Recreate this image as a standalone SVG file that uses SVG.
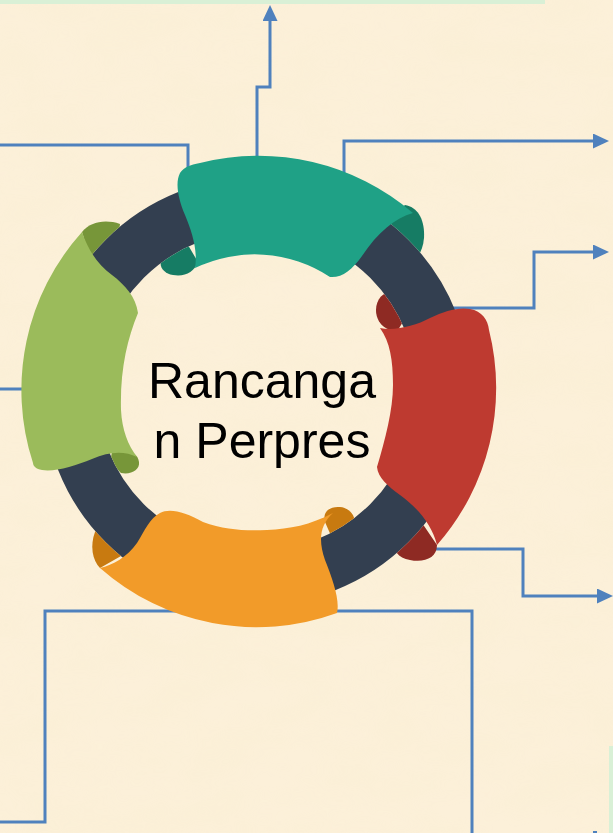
<svg xmlns="http://www.w3.org/2000/svg" width="613" height="833" viewBox="0 0 613 833">
<style>
.conn{fill:none;stroke:#4f81bd;stroke-width:3;stroke-linejoin:miter}
.ring{fill:none;stroke:#333f50;stroke-width:54}
.lbl{font-family:"Liberation Sans",Arial,sans-serif;font-size:50px;fill:#000}
.teal{fill:#1fa186}.tealD{fill:#167c64}
.red{fill:#be3a30}.redD{fill:#8e2a23}
.org{fill:#f29b29}.orgD{fill:#c87a10}
.grn{fill:#9bbb5b}.grnD{fill:#779639}
</style>
<defs>
<marker id="arr" markerUnits="userSpaceOnUse" markerWidth="16" markerHeight="15" refX="0" refY="7.5" orient="auto">
<path d="M0,0 L16,7.5 L0,15 Z" fill="#4f81bd"/>
</marker>
<filter id="parch" x="0" y="0" width="100%" height="100%">
<feTurbulence type="fractalNoise" baseFrequency="0.012 0.025" numOctaves="3" seed="7"/>
<feColorMatrix type="matrix" values="0 0 0 0 0.93 0 0 0 0 0.85 0 0 0 0 0.62 0 0 0 0.7 -0.2"/>
</filter>
<mask id="offRing" maskUnits="userSpaceOnUse" x="0" y="0" width="613" height="833">
<rect width="613" height="833" fill="#fff"/>
<circle cx="257" cy="391" r="187" fill="none" stroke="#000" stroke-width="54"/>
</mask>
</defs>
<g id="background">
<rect width="613" height="833" fill="#fcf0d9"/>
<rect width="613" height="833" filter="url(#parch)" opacity="0.6"/>
<rect x="0" y="0" width="545" height="4" fill="#d9f0d6"/>
<rect x="609" y="746" width="4" height="87" fill="#d9f0d6"/>
<rect x="593" y="831" width="4" height="2" fill="#4f81bd"/>
</g>
<g id="connectors">
<polyline class="conn" points="257,175 257,87 270,87 270,21" marker-end="url(#arr)"/>
<polyline class="conn" points="0,145 188,145 188,178"/>
<polyline class="conn" points="344,178 344,141 593,141" marker-end="url(#arr)"/>
<polyline class="conn" points="440,308 534,308 534,252 593,252" marker-end="url(#arr)"/>
<polyline class="conn" points="420,549 523,549 523,596 597,596" marker-end="url(#arr)"/>
<polyline class="conn" points="320,611 472,611 472,833"/>
<polyline class="conn" points="190,611 45,611 45,822 0,822"/>
<polyline class="conn" points="0,389 35,389"/>
</g>
<g id="ring">
<circle class="ring" cx="257" cy="391" r="187"/>
</g>
<g id="ribbon-teal">
<g mask="url(#offRing)">
<path class="tealD" d="M405,205 C418,207 425,220 424,238 C423,250 418,258 412,262 L360,240 Z"/>
<path class="tealD" d="M198,262 C194,272 185,277 173,275 C163,273 158,266 162,258 L185,240 Z"/>
</g>
<path class="teal" d="M200,163 A238 238 0 0 1 413,213 C395,218 378,232 362,256 C352,270 342,278 330,277 A137 137 0 0 0 195,268 C198,250 192,232 185,215 C178,198 175,183 180,173 C184,167 190,165 200,163 Z"/>
</g>
<g id="ribbon-red">
<g mask="url(#offRing)">
<path class="redD" d="M398,330 C385,332 376,322 376,310 C376,298 385,290 395,292 L410,310 Z"/>
<path class="redD" d="M437,545 C437,558 424,563 410,560 C398,558 392,550 395,540 L420,520 Z"/>
</g>
<path class="red" d="M380,328 C395,331 415,326 430,318 C445,311 458,307 470,309 C482,311 488,320 489,330 A238 238 0 0 1 437,545 C432,525 418,508 400,495 C388,486 378,478 377,467 C385,440 393,410 393,385 C393,360 390,342 380,328 Z"/>
</g>
<g id="ribbon-orange">
<g mask="url(#offRing)">
<path class="orgD" d="M100,568 C92,560 90,545 95,532 C100,522 112,522 122,528 L135,548 Z"/>
<path class="orgD" d="M325,522 C322,512 330,506 340,507 C350,508 357,516 354,528 L335,545 Z"/>
</g>
<path class="org" d="M160,513 C170,508 185,512 203,522 C225,530 245,531 267,530 C290,529 310,525 333,513 C320,525 318,540 325,560 C333,580 340,600 337,613 A236 236 0 0 1 100,568 C113,565 127,557 137,543 C145,530 150,518 160,513 Z"/>
</g>
<g id="ribbon-green">
<g mask="url(#offRing)">
<path class="grnD" d="M82,232 C90,222 105,219 120,224 L115,262 L90,258 Z"/>
<path class="grnD" d="M112,452 C126,448 138,452 139,462 C140,470 131,475 121,473 L110,462 Z"/>
</g>
<path class="grn" d="M82,232 C88,250 98,265 112,275 C125,285 136,297 138,313 C127,340 120,370 121,410 C122,430 128,445 137,457 C125,451 110,451 92,459 C75,466 55,472 42,470 C36,469 33,466 33,463 A236 236 0 0 1 82,232 Z"/>
</g>
<g id="center-label">
<text class="lbl" x="262" y="398" text-anchor="middle">Rancanga</text>
<text class="lbl" x="262" y="458" text-anchor="middle">n Perpres</text>
</g>
</svg>
